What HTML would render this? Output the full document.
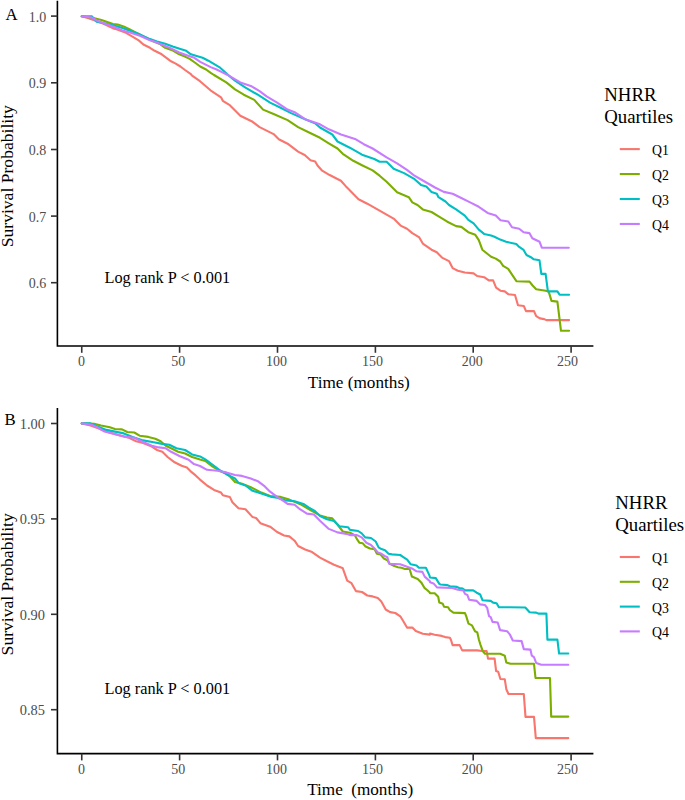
<!DOCTYPE html>
<html><head><meta charset="utf-8"><style>
html,body{margin:0;padding:0;background:#fff;}
body{width:685px;height:800px;overflow:hidden;}
svg{display:block;font-family:"Liberation Serif",serif;}
.tk{font-size:14.0px;fill:#4D4D4D;}
.tkb{font-size:14.4px;fill:#4D4D4D;}
.ttl{font-size:17.2px;fill:#000;}
.yttl{font-size:17.6px;fill:#000;}
.lr{font-size:16.3px;fill:#000;}
.let{font-size:16.8px;fill:#000;}
.lgt{font-size:18.8px;fill:#000;}
.lgq{font-size:13.8px;fill:#000;}
</style></head><body>
<svg width="685" height="800" viewBox="0 0 685 800">
<rect width="685" height="800" fill="#fff"/>
<polyline points="81.75,16.3 88.5,18.2 101.4,22.8 114.2,28.7 116.5,29.3 124.7,32.2 132.9,36.9 138.7,40.4 143.4,44.5 150,47.8 154.7,50.8 161.7,54.3 166.4,57.8 171,61.3 175.7,63.6 180.4,66.5 185,70 190.9,74.1 192.1,75.7 200,81.2 210.5,90.3 221,97.3 222.8,100.8 229.8,105.2 240.3,115.7 252.6,121.8 259.6,127.1 273.6,134.1 278.8,139.3 287.6,143.7 298.1,151.6 300,152.6 304.7,155 310.5,160.2 315.2,161.4 317.5,165.5 322.2,170.7 329.2,174.8 335,177.7 340.9,180.7 345.5,185.9 349,189.4 358.5,199.3 367.3,203.7 379.6,210.7 393.6,218.6 400.6,225.6 407,228.7 412.3,233.1 419.3,237.4 422.8,243.6 431.5,249.7 436.8,252.3 442,257.6 449,261.1 452.6,268.1 457.8,270.7 464.8,272.5 473.6,273.4 477.1,276 484.1,277.2 488.8,280.4 493.1,280.4 496.1,287.7 500.4,290.7 504.8,291.4 508.5,294.3 515,295 518,305.3 523.8,306 526,311.1 534,311.1 536.2,316.2 539.9,318.4 544.2,319.1 546.4,320.1 569.1,320.1" fill="none" stroke="#F8766D" stroke-width="2.1" stroke-linejoin="round" stroke-linecap="round"/>
<polyline points="81.75,16.3 94.4,18.2 101.4,19.9 113,24 117.7,24.6 123.5,26.4 129.4,29.3 135.2,32.2 138.7,33.9 141.3,35.4 153.6,41.5 160.5,44.3 165.2,47.8 168.7,49 173.4,50.8 179.2,54.3 185,56.6 189.7,58.9 195.5,63 200.2,66.5 206.1,69.5 210.7,72.8 214,75 226.3,82.4 235,89.4 243.8,94.7 254.3,99.9 263.1,109.6 273.6,114 287.6,120.1 298.1,127.1 308.6,132.3 320,137.8 328.8,143.3 337.5,148.5 342.8,153.8 353.3,160.8 362,165.2 372.6,170.4 379.6,175.7 386.6,181.8 397.1,192.3 404.1,195.2 408.8,197.2 412.3,202.4 417.5,205 422.8,209.4 431.5,212 440.3,217.3 447.3,221.7 456.1,226.1 461.3,226.9 468.3,232.2 475.3,234.8 478.8,240.1 482.3,249.7 491.1,256.7 495.8,258.6 500.2,261.5 503.1,265.9 508.2,268.8 516.4,281.2 529.5,281.6 532.6,285.5 536.2,289.2 545.7,290.7 548.6,291.4 551.5,300.9 557.4,301.6 561,330.8 569.1,330.8" fill="none" stroke="#7CAE00" stroke-width="2.1" stroke-linejoin="round" stroke-linecap="round"/>
<polyline points="81.75,16.3 92,16.4 96.7,21.7 101.4,22.8 113,25.2 122.4,28.1 130.6,31 138.7,33.9 150,39.1 157,41.4 165.2,43.8 173.4,46.7 180.4,49 186.2,50.8 190.9,54.3 196.7,56 202.6,57.8 208.4,60.7 214.2,64.2 220.1,67.7 227.1,74.1 235,80.7 245.5,87.7 257.8,94.7 270.1,102.6 280.6,107.8 291.1,113.1 305.1,119.2 315.6,123.6 320,127.5 332.3,134.5 337.5,141.5 349.8,147.7 362,154.7 374.3,159 379.6,161.7 386.6,161.7 393.6,168.7 404.1,173.1 414.6,179.2 421,184.9 426.3,186.6 431.5,191.9 436.8,193.7 438.5,197.2 445.5,201.5 449,205 456.1,209.4 464.8,215.6 468.3,219.9 473.6,223.4 478.8,229.6 484.1,233.9 491.1,235.5 494.4,236.7 500.2,239.6 506.1,241.8 516.3,244 519.2,246.9 523.6,249.9 526.5,255 530.9,257.2 533.8,259.3 539.5,260.3 541.3,273.9 545.6,273.9 547.9,291.4 557.4,291.4 559.6,294.7 569.1,294.7" fill="none" stroke="#00BFC4" stroke-width="2.1" stroke-linejoin="round" stroke-linecap="round"/>
<polyline points="81.75,16.3 92,17.6 97.9,21.1 106,24 115.4,27.5 122.4,30.4 130.6,32.8 139.9,35.7 150,40.3 157,42.6 164,45.5 171,48.4 179.2,52.5 187.4,55.4 194.4,57.8 200.2,61.9 207.2,65.4 210.7,67.1 216.6,69.5 222.4,72.4 227.1,74.7 240.3,82.4 250.8,85.9 259.6,91.2 266.6,96.4 277.1,102.6 287.6,109.6 294.6,112.2 305.1,119.2 315.6,122.7 320,124.3 328.8,129.3 341,134.5 355,138.9 363.8,144.2 372.6,148.5 386.6,157.3 397.1,163.4 407.3,170.2 414,175.3 422.8,180.5 435,187.5 443.8,191.9 452.6,193.7 461.3,198 470.1,202.4 478.8,206.8 487.6,212.9 495.8,215.5 500.5,220.3 508.3,221.5 512,227.2 519.2,228.7 523.6,232.3 529.4,233.1 532.3,238.2 539.6,241.8 541.8,247.7 568.8,247.7" fill="none" stroke="#C77CFF" stroke-width="2.1" stroke-linejoin="round" stroke-linecap="round"/>
<polyline points="57.4,0.8 57.4,346 593.4,346" fill="none" stroke="#000" stroke-width="1.6"/>
<line x1="51.0" y1="16.1" x2="57.4" y2="16.1" stroke="#333" stroke-width="1.6"/>
<text transform="translate(46.30,21.52) scale(1,1.04)" text-anchor="end" class="tk">1.0</text>
<line x1="51.0" y1="82.8" x2="57.4" y2="82.8" stroke="#333" stroke-width="1.6"/>
<text transform="translate(46.30,88.22) scale(1,1.04)" text-anchor="end" class="tk">0.9</text>
<line x1="51.0" y1="149.5" x2="57.4" y2="149.5" stroke="#333" stroke-width="1.6"/>
<text transform="translate(46.30,154.92) scale(1,1.04)" text-anchor="end" class="tk">0.8</text>
<line x1="51.0" y1="216.1" x2="57.4" y2="216.1" stroke="#333" stroke-width="1.6"/>
<text transform="translate(46.30,221.52) scale(1,1.04)" text-anchor="end" class="tk">0.7</text>
<line x1="51.0" y1="282.7" x2="57.4" y2="282.7" stroke="#333" stroke-width="1.6"/>
<text transform="translate(46.30,288.12) scale(1,1.04)" text-anchor="end" class="tk">0.6</text>
<line x1="81.75" y1="346" x2="81.75" y2="352.8" stroke="#333" stroke-width="1.6"/>
<text transform="translate(81.40,366.20) scale(1,1.04)" text-anchor="middle" class="tk">0</text>
<line x1="179.6" y1="346" x2="179.6" y2="352.8" stroke="#333" stroke-width="1.6"/>
<text transform="translate(178.30,366.20) scale(1,1.04)" text-anchor="middle" class="tk">50</text>
<line x1="277.5" y1="346" x2="277.5" y2="352.8" stroke="#333" stroke-width="1.6"/>
<text transform="translate(276.50,366.20) scale(1,1.04)" text-anchor="middle" class="tk">100</text>
<line x1="375.4" y1="346" x2="375.4" y2="352.8" stroke="#333" stroke-width="1.6"/>
<text transform="translate(372.40,366.20) scale(1,1.04)" text-anchor="middle" class="tk">150</text>
<line x1="473.2" y1="346" x2="473.2" y2="352.8" stroke="#333" stroke-width="1.6"/>
<text transform="translate(472.30,366.20) scale(1,1.04)" text-anchor="middle" class="tk">200</text>
<line x1="571.1" y1="346" x2="571.1" y2="352.8" stroke="#333" stroke-width="1.6"/>
<text transform="translate(567.60,366.20) scale(1,1.04)" text-anchor="middle" class="tk">250</text>
<text x="358.8" y="388" text-anchor="middle" class="ttl">Time (months)</text>
<text transform="translate(12.6,176.2) rotate(-90)" text-anchor="middle" class="yttl">Survival Probability</text>
<text x="104.5" y="283" class="lr">Log rank P &lt; 0.001</text>
<text x="5.5" y="20" class="let">A</text>
<text x="604.3" y="100.8" class="lgt">NHRR</text>
<text x="604.3" y="122.7" class="lgt">Quartiles</text>
<line x1="619.8" y1="149.1" x2="639.8" y2="149.1" stroke="#F8766D" stroke-width="2.1"/>
<text x="652" y="155.0" class="lgq">Q1</text>
<line x1="619.8" y1="174.04999999999998" x2="639.8" y2="174.04999999999998" stroke="#7CAE00" stroke-width="2.1"/>
<text x="652" y="179.95" class="lgq">Q2</text>
<line x1="619.8" y1="199.0" x2="639.8" y2="199.0" stroke="#00BFC4" stroke-width="2.1"/>
<text x="652" y="204.9" class="lgq">Q3</text>
<line x1="619.8" y1="223.95" x2="639.8" y2="223.95" stroke="#C77CFF" stroke-width="2.1"/>
<text x="652" y="229.85" class="lgq">Q4</text>
<polyline points="81.75,423.4 90.5,425.5 97.5,428.1 106.3,431.6 118.5,435.1 129,437.8 136.1,441.3 143.1,443 151.8,446.5 157.1,450 162.3,451.8 167.6,457 174.6,462.3 181.6,465.8 186.9,467.6 190.4,471.1 195.6,475.4 200,479.6 207,485.5 214,489.9 221,492.6 222.8,495.2 229.8,496.9 232.4,502.2 238.5,508.3 245.5,509.2 252.6,517.1 256.1,518 260.4,523.2 270.1,526.7 277.1,532 284.1,535.5 289.3,536.4 294.6,540.7 298.1,546 305.1,549.5 312.1,552.1 320,557.6 327,561.3 334,564.8 341,567.4 342.8,568.3 347.2,580.6 351.5,583.2 355.9,591.1 362,592 367.3,595.5 372.6,596.4 377.8,598.1 381.3,601.6 385.7,609.5 390.1,612.1 395.3,613 400.3,616.3 403.5,621.5 407,627.6 412.3,627.6 415.8,631.1 422.8,633.7 429.8,634.6 430,633.6 434.7,634.7 441.7,635.9 445.2,637.1 449.9,637.7 451,640 452.6,645.1 459.6,645.1 462.2,650.4 477.1,650.4 482.3,651 486.6,651 488,658.6 494.6,658.6 496.1,671 498.2,671.7 500.4,679 504.8,679.3 506.3,689.2 508.5,694 523.8,694 525.5,716.9 534,716.9 535.8,738.1 568.3,738.1" fill="none" stroke="#F8766D" stroke-width="2.1" stroke-linejoin="round" stroke-linecap="round"/>
<polyline points="81.75,423.4 94,423.8 101,425.5 109.8,427.3 115,429 122,429.4 127.3,432 134.3,432.5 139.6,435.7 148.3,436.9 155.3,438.7 160.6,441.3 165.8,445.7 171.1,448.3 178.1,451.8 185.1,453.5 192.1,457 200,459.5 205.3,461 212.3,466.3 219.3,470.7 228,474.2 235,482 242,483.8 250.8,487.3 256.1,489.9 261.3,492.6 270.1,496.1 280.6,496.9 289.3,499.6 301.6,504.8 310.4,510.1 320,515.4 327,517.5 332.3,518.4 337.5,524.5 342.8,531.5 350,532.8 354.7,535.1 357,539.2 359.3,542.7 362.8,543.3 365.2,546.2 369.9,548.5 374.5,549.1 376.9,553.8 380.4,554.4 383.9,558.5 387.4,560.2 389.7,563.7 394.4,566.1 397.9,567.2 401.4,567.8 404.9,569 409.6,569 411.9,576.6 417.7,578.9 421.2,582.4 424.7,588.2 427.1,590 429.8,592.6 430,593.3 434.7,593.3 438.2,596.8 439.3,602.6 442.8,603.8 444,606.7 448.1,607.3 449.9,610.2 453.4,612.6 465,613.1 466.2,616.1 468.5,623.6 472,625.4 475,631.2 477.3,632.4 479,640 480.6,645.1 482.9,651.3 485,653.8 500.2,653.8 504.8,655.7 506.3,662.6 510.7,663.8 534,663.8 535.5,678 550,678 551.2,716.6 568.3,716.6" fill="none" stroke="#7CAE00" stroke-width="2.1" stroke-linejoin="round" stroke-linecap="round"/>
<polyline points="81.75,423.4 90.5,423.4 97.5,426.4 106.3,429.9 115,431.6 123.8,433.4 132.6,436.9 143.1,440.4 153.6,442.2 162.3,443.9 169.3,444.8 176.4,448.3 185.1,450 192.1,454.4 200,456.4 205.3,459.3 212.3,464.5 219.3,469.8 226.3,474.2 235,478.5 238.5,482.9 245.5,485.5 252.6,490.8 261.3,493.4 271.8,496.9 277.1,497.8 285.8,500.4 294.6,501.3 303.4,503.9 308.6,507.4 314.8,511 320,516 327,519.3 334,521 339.3,526.3 348,527.2 350,529.9 358.2,531 361.7,533.4 365.2,537.4 371,538 375.7,541.5 378.6,547.4 381.5,549.1 385,550.3 388.5,553.8 392,554.4 400.2,555 403.7,557.3 407.2,559.6 410.7,564.3 416.6,565.5 418.9,567.8 425.9,567.8 429.4,575.4 429.8,576.8 430,577.5 435.8,578.1 439.3,583.9 440.5,584.5 447.5,585.1 449.9,586.3 456.9,586.9 459.2,588 462.7,588.6 465,590.4 473.2,590.4 476.7,592.7 480.2,594.5 482.6,600.3 490.7,600.9 493.1,602.6 496.6,603.2 498.9,607.3 510,607.3 525.3,607.5 529.6,612.2 536.2,612.6 538.4,613.6 546.4,613.6 547.4,639.6 557.4,639.6 559.1,653.5 568.3,653.5" fill="none" stroke="#00BFC4" stroke-width="2.1" stroke-linejoin="round" stroke-linecap="round"/>
<polyline points="81.75,423.4 90.5,424.6 97.5,427.3 104.5,431.6 115,434.3 125.5,436.9 134.3,437.8 141.3,441.3 151.8,445.7 158.8,447.4 165.8,448.3 171.1,451.8 179.9,456.2 188.6,459.7 193.9,464.1 200,466 207,469.8 217.5,470.7 226.3,472.4 235,475 242,475.9 250.8,478.5 257.8,481.2 264.8,486.4 270.1,491.7 277.1,496.9 284.1,501.3 287.6,503.9 294.6,504.8 299.9,509.2 306.9,513.6 313.9,514.5 320,520.8 328.8,528.9 337.5,532.4 348,534.2 350,535.1 357,535.1 361.7,537.4 366.4,542.7 371,545 374.5,548.5 378,552.6 381.5,553.8 385,556.1 387.4,557.3 389.1,563.7 400.2,564.3 403.7,565.5 408.4,567.2 411.9,568.4 416.6,571.3 422.4,571.9 424.7,576.6 429.9,581.2 430,582.2 433.5,583.4 437,587.4 452.2,588 458,589.8 463.3,590.4 465,593.9 467.4,595 469.1,599.7 476.7,600.9 480.2,604.4 484.9,605 487.2,607.9 489,616.1 490.7,617.2 492.5,621.9 497.7,622.5 500.1,630.1 507.1,631.2 510,634.7 512.8,640.5 521.6,641.1 523.8,649.1 530.4,649.6 531.8,655.7 534,657.2 536.2,663 541.3,664.7 568.3,664.7" fill="none" stroke="#C77CFF" stroke-width="2.1" stroke-linejoin="round" stroke-linecap="round"/>
<polyline points="57.4,408 57.4,753.6 593.4,753.6" fill="none" stroke="#000" stroke-width="1.6"/>
<line x1="51.0" y1="423.5" x2="57.4" y2="423.5" stroke="#333" stroke-width="1.6"/>
<text transform="translate(45.00,428.92) scale(1,1.04)" text-anchor="end" class="tkb">1.00</text>
<line x1="51.0" y1="518.9" x2="57.4" y2="518.9" stroke="#333" stroke-width="1.6"/>
<text transform="translate(45.00,524.32) scale(1,1.04)" text-anchor="end" class="tkb">0.95</text>
<line x1="51.0" y1="614.3" x2="57.4" y2="614.3" stroke="#333" stroke-width="1.6"/>
<text transform="translate(45.00,619.72) scale(1,1.04)" text-anchor="end" class="tkb">0.90</text>
<line x1="51.0" y1="709.7" x2="57.4" y2="709.7" stroke="#333" stroke-width="1.6"/>
<text transform="translate(45.00,715.12) scale(1,1.04)" text-anchor="end" class="tkb">0.85</text>
<line x1="81.75" y1="753.6" x2="81.75" y2="760.4" stroke="#333" stroke-width="1.6"/>
<text transform="translate(81.40,773.60) scale(1,1.04)" text-anchor="middle" class="tk">0</text>
<line x1="179.6" y1="753.6" x2="179.6" y2="760.4" stroke="#333" stroke-width="1.6"/>
<text transform="translate(178.30,773.60) scale(1,1.04)" text-anchor="middle" class="tk">50</text>
<line x1="277.5" y1="753.6" x2="277.5" y2="760.4" stroke="#333" stroke-width="1.6"/>
<text transform="translate(276.50,773.60) scale(1,1.04)" text-anchor="middle" class="tk">100</text>
<line x1="375.4" y1="753.6" x2="375.4" y2="760.4" stroke="#333" stroke-width="1.6"/>
<text transform="translate(372.40,773.60) scale(1,1.04)" text-anchor="middle" class="tk">150</text>
<line x1="473.2" y1="753.6" x2="473.2" y2="760.4" stroke="#333" stroke-width="1.6"/>
<text transform="translate(472.30,773.60) scale(1,1.04)" text-anchor="middle" class="tk">200</text>
<line x1="571.1" y1="753.6" x2="571.1" y2="760.4" stroke="#333" stroke-width="1.6"/>
<text transform="translate(567.60,773.60) scale(1,1.04)" text-anchor="middle" class="tk">250</text>
<text x="307.2" y="795.4" class="ttl">Time</text>
<text x="351.2" y="795.4" class="ttl">(months)</text>
<text transform="translate(12.6,584.3) rotate(-90)" text-anchor="middle" class="yttl">Survival Probability</text>
<text x="104.5" y="694.1" class="lr">Log rank P &lt; 0.001</text>
<text x="4.6" y="424.8" class="let">B</text>
<text x="615.3" y="509.3" class="lgt">NHRR</text>
<text x="615.3" y="531.3" class="lgt">Quartiles</text>
<line x1="619.8" y1="557.0" x2="639.8" y2="557.0" stroke="#F8766D" stroke-width="2.1"/>
<text x="652" y="562.9" class="lgq">Q1</text>
<line x1="619.8" y1="581.8" x2="639.8" y2="581.8" stroke="#7CAE00" stroke-width="2.1"/>
<text x="652" y="587.6999999999999" class="lgq">Q2</text>
<line x1="619.8" y1="606.6" x2="639.8" y2="606.6" stroke="#00BFC4" stroke-width="2.1"/>
<text x="652" y="612.5" class="lgq">Q3</text>
<line x1="619.8" y1="631.4" x2="639.8" y2="631.4" stroke="#C77CFF" stroke-width="2.1"/>
<text x="652" y="637.3" class="lgq">Q4</text>
</svg>
</body></html>
